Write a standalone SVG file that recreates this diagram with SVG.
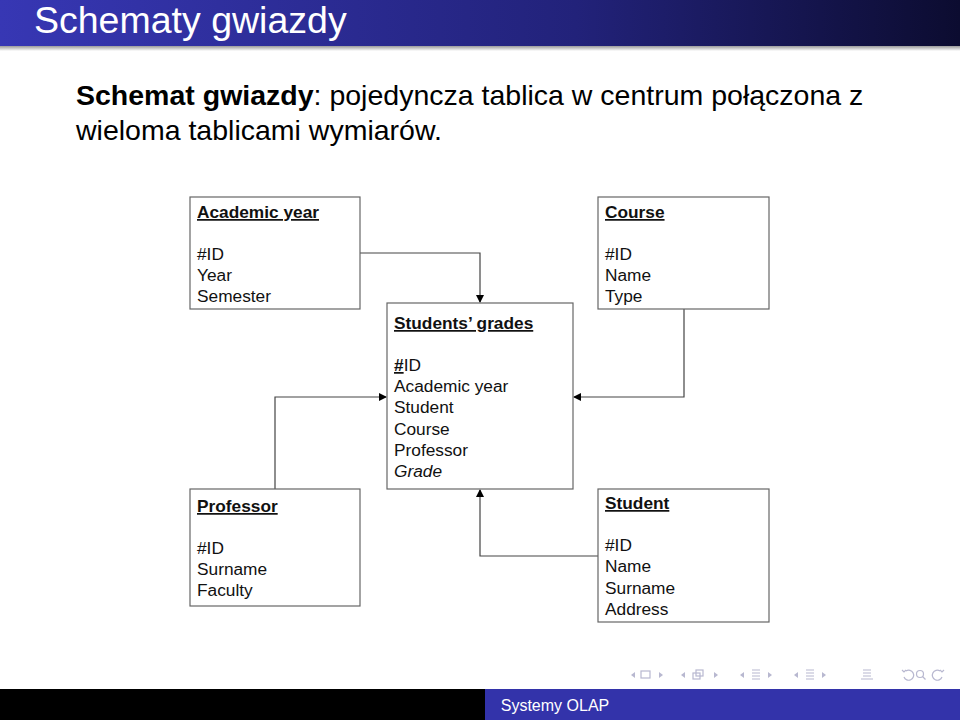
<svg xmlns="http://www.w3.org/2000/svg" width="960" height="720" viewBox="0 0 960 720">
<defs>
<linearGradient id="hdr" x1="0" y1="0" x2="1" y2="0">
<stop offset="0" stop-color="#3737b4"/>
<stop offset="0.6" stop-color="#22227a"/>
<stop offset="1" stop-color="#0c0c30"/>
</linearGradient>
<linearGradient id="shd" x1="0" y1="0" x2="0" y2="1">
<stop offset="0" stop-color="#9a9a9a"/>
<stop offset="1" stop-color="#ffffff"/>
</linearGradient>
<marker id="arr" markerWidth="8" markerHeight="8" refX="7" refY="4" orient="auto" markerUnits="userSpaceOnUse">
<path d="M0,0 L8,4 L0,8 Z" fill="#000"/>
</marker>
</defs>
<style>
.box{fill:#fff;stroke:#666;stroke-width:1.2}
.t{font-family:"Liberation Sans",Arial,sans-serif;font-size:17.3px;fill:#111}
.h{font-weight:bold;text-decoration:underline}
.c{fill:none;stroke:#444;stroke-width:1.2}
.nav{fill:none;stroke:#b8b8d0;stroke-width:1.2}
.navf{fill:#b8b8d0}
</style>
<rect width="960" height="720" fill="#fff"/>
<rect x="0" y="0" width="960" height="46" fill="url(#hdr)"/>
<rect x="0" y="46" width="960" height="5" fill="url(#shd)"/>
<text x="34" y="33" font-family="Liberation Sans,Arial,sans-serif" font-size="37.5" fill="#fff">Schematy gwiazdy</text>
<text x="76" y="105" font-family="Liberation Sans,Arial,sans-serif" font-size="28.5" fill="#000"><tspan font-weight="bold">Schemat gwiazdy</tspan>: pojedyncza tablica w centrum połączona z</text>
<text x="76" y="140" font-family="Liberation Sans,Arial,sans-serif" font-size="28.5" fill="#000">wieloma tablicami wymiarów.</text>

<g id="connectors">
<polyline class="c" points="360,253 480,253 480,302" marker-end="url(#arr)"/>
<polyline class="c" points="684,309 684,397 574,397" marker-end="url(#arr)"/>
<polyline class="c" points="275,489 275,397 386,397" marker-end="url(#arr)"/>
<polyline class="c" points="598,556 480,556 480,490" marker-end="url(#arr)"/>
</g>

<g id="academic-year">
<rect class="box" x="190" y="197" width="170" height="112"/>
<text class="t h" x="197" y="218">Academic year</text>
<text class="t" x="197" y="260">#ID</text>
<text class="t" x="197" y="281">Year</text>
<text class="t" x="197" y="302">Semester</text>
</g>
<g id="course">
<rect class="box" x="598" y="197" width="171" height="112"/>
<text class="t h" x="605" y="218">Course</text>
<text class="t" x="605" y="260">#ID</text>
<text class="t" x="605" y="281">Name</text>
<text class="t" x="605" y="302">Type</text>
</g>
<g id="students-grades">
<rect class="box" x="387" y="303" width="186" height="186"/>
<text class="t h" x="394" y="329">Students’ grades</text>
<text class="t" x="394" y="371"><tspan font-weight="bold" text-decoration="underline">#</tspan>ID</text>
<text class="t" x="394" y="392">Academic year</text>
<text class="t" x="394" y="413">Student</text>
<text class="t" x="394" y="435">Course</text>
<text class="t" x="394" y="456">Professor</text>
<text class="t" x="394" y="477" font-style="italic">Grade</text>
</g>
<g id="professor">
<rect class="box" x="190" y="489" width="170" height="117"/>
<text class="t h" x="197" y="512">Professor</text>
<text class="t" x="197" y="554">#ID</text>
<text class="t" x="197" y="575">Surname</text>
<text class="t" x="197" y="596">Faculty</text>
</g>
<g id="student">
<rect class="box" x="598" y="489" width="171" height="133"/>
<text class="t h" x="605" y="509">Student</text>
<text class="t" x="605" y="551">#ID</text>
<text class="t" x="605" y="572">Name</text>
<text class="t" x="605" y="594">Surname</text>
<text class="t" x="605" y="615">Address</text>
</g>

<g id="nav">
<path class="navf" d="M631,675 l4,-3 v6 z"/>
<rect class="nav" x="641" y="671" width="9" height="7"/>
<path class="navf" d="M659,672 l4,3 l-4,3 z"/>
<path class="navf" d="M681,675 l4,-3 v6 z"/>
<rect class="nav" x="693" y="673" width="7" height="6"/>
<rect class="nav" x="696" y="670" width="7" height="6"/>
<path class="navf" d="M714,672 l4,3 l-4,3 z"/>
<path class="navf" d="M740,675 l4,-3 v6 z"/>
<path class="nav" d="M752,670 h8 M752,673 h8 M752,676 h8 M752,679 h8"/>
<path class="navf" d="M768,672 l4,3 l-4,3 z"/>
<path class="navf" d="M794,675 l4,-3 v6 z"/>
<path class="nav" d="M806,670 h8 M806,673 h8 M806,676 h8 M806,679 h8"/>
<path class="navf" d="M822,672 l4,3 l-4,3 z"/>
<path class="nav" d="M863,670 h8 M863,673 h8 M863,676 h8 M861,679 h12"/>
<path class="nav" d="M904,677 a5,5 0 1 0 2,-6 M902,670 l2,2 l2,-2"/>
<circle class="nav" cx="920" cy="674" r="3.5"/>
<path class="nav" d="M922.5,676.5 l3,3"/>
<path class="nav" d="M942,677 a5,5 0 1 1 -2,-6 M944,670 l-2,2 l-2,-2"/>
</g>

<rect x="0" y="689" width="485" height="31" fill="#000"/>
<rect x="485" y="689" width="475" height="31" fill="#3333aa"/>
<text x="555" y="711" text-anchor="middle" font-family="Liberation Sans,Arial,sans-serif" font-size="16" fill="#fff">Systemy OLAP</text>
</svg>
